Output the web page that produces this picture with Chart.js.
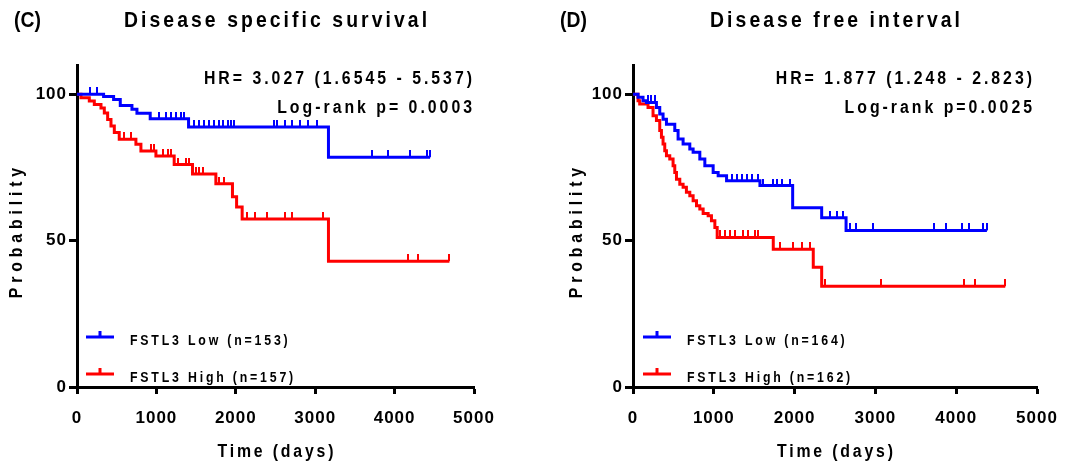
<!DOCTYPE html>
<html>
<head>
<meta charset="utf-8">
<script src="https://cdn.jsdelivr.net/npm/chart.js@4.4.1/dist/chart.umd.min.js"></script>
<style>
  body { margin: 0; background: #fff; }
  #wrap { position: relative; width: 1073px; height: 464px; }
  canvas { position: absolute; top: 0; }
</style>
</head>
<body>
<div id="wrap">
  <canvas id="chartC" width="536" height="464" style="left:0"></canvas>
  <canvas id="chartD" width="537" height="464" style="left:536px"></canvas>
</div>
<script>
// axis ticks
const xTicks = [0, 1000, 2000, 3000, 4000, 5000];
const yTicks = [0, 50, 100];

// (C) Disease specific survival - step times (days) and survival (%)
const dssLowTime = [0, 335, 461, 545, 692, 755, 922, 1405, 3167];
const dssLowProb = [100, 99.2, 98.2, 96.2, 94.9, 93.5, 91.6, 88.8, 78.5];
const dssLowCensor = [167, 252, 1036, 1120, 1183, 1246, 1309, 1350, 1476, 1539, 1602, 1665, 1728, 1791, 1833, 1896, 1938, 1980,
  2475, 2517, 2621, 2705, 2810, 2914, 3019, 3712, 3921, 4194, 4404, 4447];

const dssHighTime = [0, 50, 155, 218, 302, 344, 386, 428, 470, 532, 742, 805, 994, 1224, 1455, 1749, 1958, 2010, 2080, 3167];
const dssHighProb = [100, 98.8, 97.7, 96.5, 95.3, 93.6, 91.4, 89.2, 86.9, 84.6, 82.9, 80.6, 78.9, 76, 72.8, 69.4, 65, 61.5, 57.4, 43];
const dssHighCensor = [595, 680, 931, 973, 1078, 1140, 1183, 1266, 1371, 1413, 1497, 1539, 1581, 1791, 1854,
  2139, 2244, 2391, 2622, 2706, 3104, 4173, 4299, 4690];

// (D) Disease free interval
const dfiLowTime = [0, 62, 124, 166, 290, 331, 372, 414, 517, 558, 620, 703, 744, 827, 889, 992, 1054, 1158, 1571, 1976, 2335, 2637];
const dfiLowProb = [100, 99, 97.8, 97.2, 95.5, 93.3, 91.5, 89.8, 87.6, 84.7, 83, 81.3, 80.2, 77.9, 75.6, 73.3, 72.2, 70.5, 68.8, 61.2, 57.8, 53.5];
const dfiLowCensor = [186, 228, 269, 1220, 1282, 1344, 1406, 1468, 1550, 1612, 1736, 1777, 1840, 1942,
  2438, 2521, 2596, 2686, 2756, 2975, 3727, 3876, 4071, 4153, 4331, 4380];

const dfiHighTime = [0, 62, 83, 186, 248, 290, 331, 352, 372, 393, 414, 455, 496, 517, 538, 579, 620, 661, 703, 744, 786, 827, 868, 930, 971, 1013, 1042, 1736, 2231, 2335];
const dfiHighProb = [100, 97.8, 96.7, 95.5, 92.7, 91, 87.6, 85.3, 83, 80.7, 79, 77.9, 75.6, 73.3, 71, 69.3, 68.2, 66.5, 65.3, 63.6, 61.9, 60.8, 59.3, 58.5, 56.8, 54.5, 51.1, 47.1, 40.9, 34.4];
const dfiHighCensor = [1075, 1137, 1199, 1261, 1364, 1426, 1509, 1550, 1818, 1984, 2087, 2190, 2376, 3066, 4099, 4227, 4607];

const BLUE = '#0000ff';
const RED = '#ff0000';
const FONT = "'Liberation Sans', Arial, sans-serif";
const SQUEEZE = 0.88; // the original lettering is a bit narrow

// value of the KM curve at time t
function survAt(times, probs, t) {
  let p = probs[0];
  for (let i = 0; i < times.length; i++) {
    if (times[i] <= t) p = probs[i];
  }
  return p;
}

function stepPoints(times, probs, censors) {
  const pts = times.map((t, i) => ({ x: t, y: probs[i] }));
  pts.push({ x: censors[censors.length - 1], y: probs[probs.length - 1] });
  return pts;
}

function censorPoints(times, probs, censors) {
  return censors.map(t => ({ x: t, y: survAt(times, probs, t) }));
}

// little upward tick used for censored cases
function tickMark(color) {
  const c = document.createElement('canvas');
  c.width = 2;
  c.height = 14;
  const g = c.getContext('2d');
  g.fillStyle = color;
  g.fillRect(0, 0, 2, 7);
  return c;
}

function spacedText(ctx, text, x, y, size, spacing, align) {
  ctx.save();
  ctx.translate(x, y);
  ctx.scale(SQUEEZE, 1);
  ctx.font = 'bold ' + size + 'px ' + FONT;
  ctx.letterSpacing = spacing + 'px';
  ctx.textAlign = align;
  ctx.textBaseline = 'middle';
  ctx.fillStyle = '#000';
  let dx = 0;
  if (align === 'right') dx = spacing;
  if (align === 'center') dx = spacing / 2;
  ctx.fillText(text, dx, 0);
  ctx.restore();
}

const panelText = {
  id: 'panelText',
  beforeDraw(chart) {
    chart.ctx.letterSpacing = '1px';
  },
  afterDraw(chart) {
    const o = chart.options.plugins.panelText;
    const ctx = chart.ctx;
    const a = chart.chartArea;
    const mid = (a.left + a.right) / 2;

    spacedText(ctx, o.tag, o.tagX, 21, 22, 0, 'left');
    spacedText(ctx, o.title, mid, 21, 22, 3.5, 'center');
    spacedText(ctx, o.hr, a.right - o.hrGap, 79.5, 18, 3.4, 'right');
    spacedText(ctx, o.logrank, a.right - o.hrGap, 108, 18, 3.4, 'right');
    spacedText(ctx, 'Time (days)', mid, 452, 18, 3.2, 'center');

    ctx.save();
    ctx.translate(a.left - o.probGap, 233);
    ctx.rotate(-Math.PI / 2);
    spacedText(ctx, 'Probability', 0, 0, 18, 5.5, 'center');
    ctx.restore();

    // legend
    o.legend.forEach((item, i) => {
      const y = a.bottom - 50 + i * 37;
      const x0 = a.left + o.legX;
      ctx.save();
      ctx.strokeStyle = item.color;
      ctx.lineWidth = 3;
      ctx.beginPath();
      ctx.moveTo(x0, y);
      ctx.lineTo(x0 + 28, y);
      ctx.moveTo(x0 + 14, y);
      ctx.lineTo(x0 + 14, y - 6);
      ctx.stroke();
      ctx.restore();
      spacedText(ctx, item.text, x0 + 44, y + 4, 14, 3.2, 'left');
    });
  }
};

function makeChart(id, low, high, cfg) {
  const lowT = low[0], lowP = low[1], lowC = low[2];
  const highT = high[0], highP = high[1], highC = high[2];
  const tickFont = { family: FONT, weight: 'bold', size: 17 };

  return new Chart(document.getElementById(id), {
    type: 'line',
    data: {
      datasets: [
        { data: stepPoints(lowT, lowP, lowC), borderColor: BLUE, borderWidth: 3, stepped: true, pointRadius: 0, fill: false, clip: 6 },
        { data: censorPoints(lowT, lowP, lowC), showLine: false, pointStyle: tickMark(BLUE), pointRadius: 3, clip: 6 },
        { data: stepPoints(highT, highP, highC), borderColor: RED, borderWidth: 3, stepped: true, pointRadius: 0, fill: false, clip: 6 },
        { data: censorPoints(highT, highP, highC), showLine: false, pointStyle: tickMark(RED), pointRadius: 3, clip: 6 }
      ]
    },
    options: {
      responsive: false,
      animation: false,
      devicePixelRatio: 1,
      layout: { padding: { top: 65, left: 0, right: cfg.padRight, bottom: 0 } },
      plugins: {
        legend: { display: false },
        tooltip: { enabled: false },
        panelText: cfg.text
      },
      scales: {
        x: {
          type: 'linear',
          min: 0,
          max: 5000,
          afterBuildTicks: s => { s.ticks = xTicks.map(v => ({ value: v })); },
          afterFit: s => { s.height = 77; },
          grid: { drawOnChartArea: false, drawTicks: true, tickLength: 7, tickWidth: 3, color: '#000' },
          border: { display: true, color: '#000', width: 3 },
          ticks: { color: '#000', font: tickFont, padding: 14, maxRotation: 0, autoSkip: false, callback: v => String(v) }
        },
        y: {
          type: 'linear',
          min: 0,
          max: 110,
          afterBuildTicks: s => { s.ticks = yTicks.map(v => ({ value: v })); },
          afterFit: s => { s.width = cfg.yWidth; },
          grid: { drawOnChartArea: false, drawTicks: true, tickLength: 8, tickWidth: 3, color: '#000' },
          border: { display: true, color: '#000', width: 3 },
          ticks: { color: '#000', font: tickFont, padding: 2, callback: v => String(v) }
        }
      }
    },
    plugins: [panelText]
  });
}

makeChart('chartC',
  [dssLowTime, dssLowProb, dssLowCensor],
  [dssHighTime, dssHighProb, dssHighCensor],
  {
    padRight: 62,
    yWidth: 77,
    text: {
      tag: '(C)', tagX: 14,
      title: 'Disease specific survival',
      hr: 'HR= 3.027 (1.6545 - 5.537)',
      logrank: 'Log-rank p= 0.0003',
      hrGap: 2,
      probGap: 60,
      legX: 9,
      legend: [
        { color: BLUE, text: 'FSTL3 Low (n=153)' },
        { color: RED, text: 'FSTL3 High (n=157)' }
      ]
    }
  });

makeChart('chartD',
  [dfiLowTime, dfiLowProb, dfiLowCensor],
  [dfiHighTime, dfiHighProb, dfiHighCensor],
  {
    padRight: 36,
    yWidth: 97,
    text: {
      tag: '(D)', tagX: 24,
      title: 'Disease free interval',
      hr: 'HR= 1.877 (1.248 - 2.823)',
      logrank: 'Log-rank p=0.0025',
      hrGap: 5,
      probGap: 56,
      legX: 10,
      legend: [
        { color: BLUE, text: 'FSTL3 Low (n=164)' },
        { color: RED, text: 'FSTL3 High (n=162)' }
      ]
    }
  });
</script>
</body>
</html>
